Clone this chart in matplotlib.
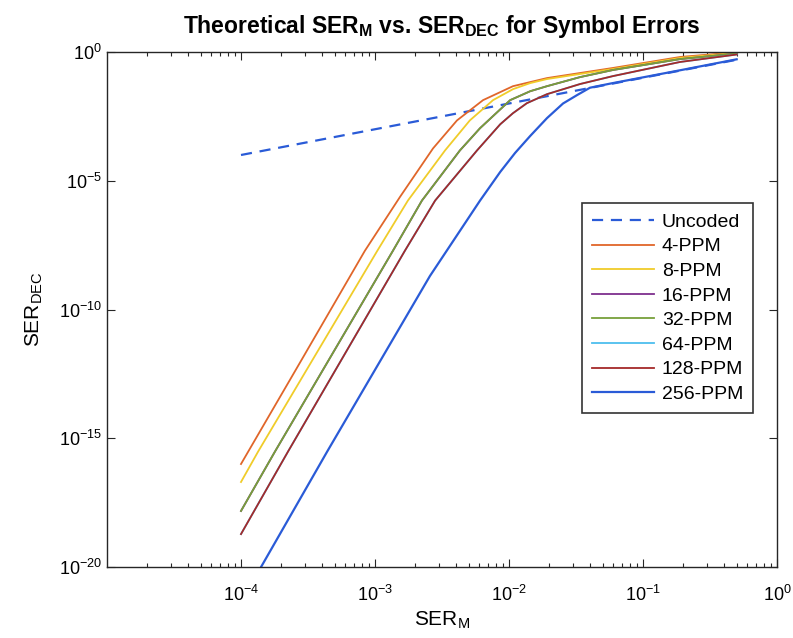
import matplotlib
matplotlib.use("Agg")
import matplotlib.pyplot as plt
from matplotlib.ticker import LogLocator, NullFormatter, FixedLocator

plt.rcParams['font.family'] = ['Liberation Sans', 'DejaVu Sans']
plt.rcParams['mathtext.fontset'] = 'custom'
plt.rcParams['mathtext.rm'] = 'Liberation Sans'
plt.rcParams['mathtext.it'] = 'Liberation Sans'
plt.rcParams['mathtext.bf'] = 'Liberation Sans:bold'

# ---- data ----
uncoded_x = [1e-4, 1e-3, 1e-2, 1e-1, 0.5]
uncoded_y = [1e-4, 1e-3, 1e-2, 1e-1, 0.5]

ppm4_x = [1.0e-4, 2.8e-4, 8.4e-4, 1.54e-3, 2.71e-3, 4.09e-3, 6.4e-3, 1.07e-2, 1.92e-2, 5.97e-2, 0.189, 0.5]
ppm4_y = [1e-16, 1e-12, 1.9e-8, 2.4e-6, 1.8e-4, 2.2e-3, 1.35e-2, 4.7e-2, 9.7e-2, 0.24, 0.64, 0.98]

ppm8_x = [1.0e-4, 1.34e-4, 1.04e-3, 1.76e-3, 3.33e-3, 5.1e-3, 7.6e-3, 1.07e-2, 1.44e-2, 1.92e-2, 5.97e-2, 0.189, 0.5]
ppm8_y = [2.0e-17, 3.0e-16, 1.9e-8, 1.7e-6, 1.5e-4, 2.2e-3, 1.35e-2, 3.6e-2, 6.2e-2, 8.9e-2, 0.22, 0.59, 0.93]

ppm16_x = [1.0e-4, 1.79e-4, 1.36e-3, 2.24e-3, 4.3e-3, 6.08e-3, 1.02e-2, 1.44e-2, 1.92e-2, 3.39e-2, 5.97e-2, 0.189, 0.5]
ppm16_y = [1.5e-18, 3.0e-16, 1.9e-8, 1.7e-6, 1.5e-4, 1.1e-3, 1.35e-2, 3.0e-2, 4.7e-2, 0.106, 0.20, 0.53, 0.87]

ppm32_x = ppm16_x
ppm32_y = ppm16_y

ppm128_x = [1.0e-4, 2.24e-4, 1.67e-3, 2.81e-3, 5.77e-3, 8.6e-3, 1.07e-2, 1.36e-2, 1.92e-2, 3.39e-2, 5.97e-2, 0.189, 0.5]
ppm128_y = [1.9e-19, 3.0e-16, 1.9e-8, 1.7e-6, 1.5e-4, 1.56e-3, 4.2e-3, 1.03e-2, 2.3e-2, 5.7e-2, 0.116, 0.41, 0.80]

ppm64_x = ppm128_x
ppm64_y = ppm128_y

ppm256_x = [1.0e-4, 1.44e-4, 4.39e-4, 2.57e-3, 6.08e-3, 8.6e-3, 1.11e-2, 1.44e-2, 1.92e-2, 2.53e-2,
            3.21e-2, 4.02e-2, 5.67e-2, 8.0e-2, 0.189, 0.5]
ppm256_y = [4.6e-22, 1.2e-20, 3.0e-16, 2.0e-9, 1.7e-6, 2.2e-5, 1.2e-4, 5.5e-4, 2.7e-3, 1.0e-2,
            2.1e-2, 4.1e-2, 5.9e-2, 8.3e-2, 0.195, 0.52]

labels = ['Uncoded', '4-PPM', '8-PPM', '16-PPM', '32-PPM', '64-PPM', '128-PPM', '256-PPM']
colors = ['#2a5bd7', '#e0662a', '#f0cc2a', '#7E2F8E', '#77a03a', '#4DBEEE', '#a52a2a', '#2a5bd7']

xtick_vals = [1e-4, 1e-3, 1e-2, 1e-1, 1e0]
xtick_labels = [r'$\mathregular{10^{-4}}$', r'$\mathregular{10^{-3}}$', r'$\mathregular{10^{-2}}$',
                r'$\mathregular{10^{-1}}$', r'$\mathregular{10^{0}}$']
ytick_vals = [1e-20, 1e-15, 1e-10, 1e-5, 1e0]
ytick_labels = [r'$\mathregular{10^{-20}}$', r'$\mathregular{10^{-15}}$', r'$\mathregular{10^{-10}}$',
                r'$\mathregular{10^{-5}}$', r'$\mathregular{10^{0}}$']

series = [(uncoded_x, uncoded_y), (ppm4_x, ppm4_y), (ppm8_x, ppm8_y), (ppm16_x, ppm16_y),
          (ppm32_x, ppm32_y), (ppm64_x, ppm64_y), (ppm128_x, ppm128_y), (ppm256_x, ppm256_y)]

fig = plt.figure(figsize=(7.93, 6.38), dpi=100)
ax = fig.add_axes([107/793, 1-567/638, 670/793, 515/638])

for i, ((xs, ys), lab, col) in enumerate(zip(series, labels, colors)):
    if i == 0:
        ax.loglog(xs, ys, color=col, lw=1.6, linestyle=(0, (5, 3.5)), label=lab)
    else:
        ax.loglog(xs, ys, color=col, lw=1.3 if i < 7 else 1.6, label=lab,
                  solid_joinstyle='round')

ax.set_xlim(1e-5, 1)
ax.set_ylim(1e-20, 1)
ax.xaxis.set_major_locator(FixedLocator(xtick_vals))
ax.set_xticklabels(xtick_labels)
ax.xaxis.set_minor_locator(LogLocator(base=10, subs=range(2, 10), numticks=20))
ax.xaxis.set_minor_formatter(NullFormatter())
ax.yaxis.set_major_locator(FixedLocator(ytick_vals))
ax.set_yticklabels(ytick_labels)
ax.yaxis.set_minor_locator(FixedLocator([]))

ax.tick_params(which='both', direction='in', top=True, right=True, colors='#262626',
               labelcolor='black', labelsize=13)
ax.tick_params(axis='x', which='major', pad=13)
ax.tick_params(which='major', length=6, width=0.8)
ax.tick_params(which='minor', length=3, width=0.8)
for s in ax.spines.values():
    s.set_color('#262626')
    s.set_linewidth(1.0)

ax.set_xlabel(r'SER$_\mathregular{M}$', fontsize=15, labelpad=3)
ax.set_ylabel(r'SER$_\mathregular{DEC}$', fontsize=15, labelpad=10)
ax.set_title(r'Theoretical SER$_\mathbf{M}$ vs. SER$_\mathbf{DEC}$ for Symbol Errors',
             fontsize=16.5, fontweight='bold', pad=14)

leg = ax.legend(loc='upper left', bbox_to_anchor=(0.709, 0.706), borderaxespad=0,
                fontsize=14, handlelength=3.2, labelspacing=0.36, fancybox=False,
                framealpha=1, edgecolor='#333333', borderpad=0.5, handletextpad=0.4)
leg.get_frame().set_linewidth(1.2)

fig.savefig('out.png', dpi=100)
